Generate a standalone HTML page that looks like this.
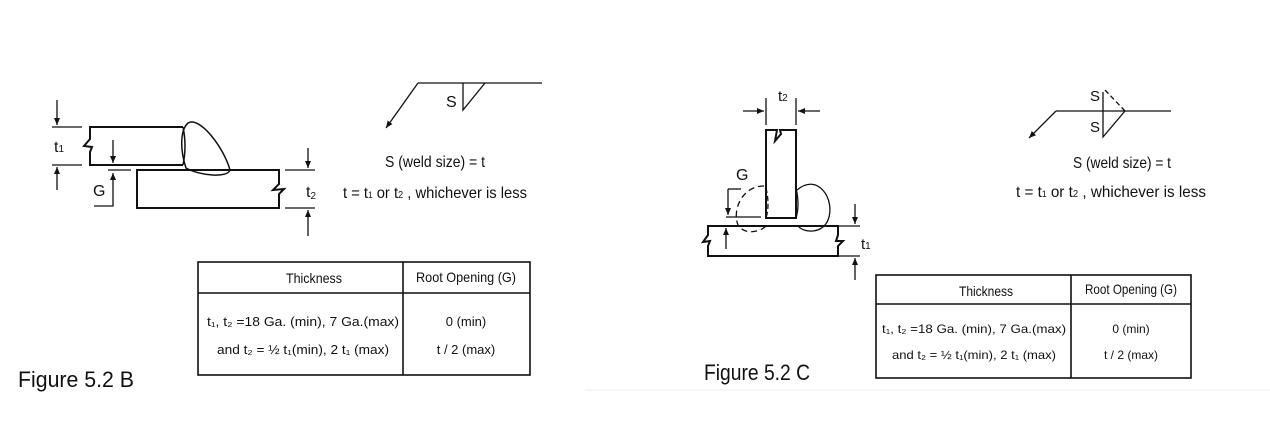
<!DOCTYPE html>
<html><head><meta charset="utf-8"><style>
html,body{margin:0;padding:0;background:#fff;}
svg{display:block;font-family:"Liberation Sans",sans-serif;}
</style></head><body>
<svg width="1270" height="444" viewBox="0 0 1270 444" xmlns="http://www.w3.org/2000/svg">
<defs>
<marker id="ar" markerWidth="8" markerHeight="8" refX="7" refY="3" orient="auto" markerUnits="userSpaceOnUse"><path d="M0,0 L7,3 L0,6 z" fill="#111"/></marker>
</defs>
<line x1="585" y1="390" x2="1270" y2="390" stroke="#eee" stroke-width="1"/>
<g stroke="#111" stroke-width="2" fill="none">
<!-- Figure B -->
<path d="M183,127 L90,127 L90,139 L84,146 L92,147 L90,152 L90,165 L183,165"/>
<path d="M183,127 Q187,146 183,165" stroke-width="1.5"/>
<path d="M188,123 C200,116 224,148 230,170 C228,178 200,176 186,168 C180,150 180,130 188,123 Z" stroke-width="1.5"/>
<path d="M137,170 L279,170 L279,184 L273,190 L284,189 L279,194 L279,208 L137,208 Z"/>
<g stroke-width="1.3">
<line x1="52" y1="127" x2="82" y2="127"/><line x1="52" y1="165" x2="82" y2="165"/>
<line x1="57" y1="100" x2="57" y2="125" marker-end="url(#ar)"/>
<line x1="57" y1="190" x2="57" y2="167" marker-end="url(#ar)"/>
<line x1="108" y1="170" x2="131" y2="170"/>
<line x1="113" y1="140" x2="113" y2="163" marker-end="url(#ar)"/>
<path d="M94,206 L113,206 L113,173" marker-end="url(#ar)"/>
<line x1="285" y1="170" x2="315" y2="170"/><line x1="285" y1="208" x2="315" y2="208"/>
<line x1="308" y1="148" x2="308" y2="168" marker-end="url(#ar)"/>
<line x1="308" y1="236" x2="308" y2="210" marker-end="url(#ar)"/>
<path d="M418,83 L386,128" marker-end="url(#ar)"/>
<path d="M418,83 L542,83"/>
<path d="M463,83 L463,110 L485,83"/>
</g>
<!-- Figure C -->
<path d="M766,218 L766,130 L777,130 L775,141 L781,134 L780,130 L796,130 L796,218 Z"/>
<path d="M838,226 L708,226 L708,235 L703,242 L710,241 L708,246 L708,256 L838,256 L838,246 L843,241 L836,241 L838,235 Z"/>
<g stroke-width="1.3">
<path d="M797,190 C818,172 836,200 828,220 C823,233 805,234 798,226" />
<path d="M796,188 Q800,205 796,218"/>
<path d="M764,186 C742,186 732,210 738,225 C745,236 762,232 768,224" stroke-dasharray="6,4"/>
<path d="M766,188 Q770,205 766,218" stroke-dasharray="5,3"/>
<line x1="766" y1="98" x2="766" y2="125"/><line x1="796" y1="98" x2="796" y2="125"/>
<line x1="743" y1="111" x2="764" y2="111" marker-end="url(#ar)"/>
<line x1="820" y1="111" x2="798" y2="111" marker-end="url(#ar)"/>
<path d="M726,217 L761,217"/>
<path d="M728,189 L728,215" marker-end="url(#ar)"/>
<path d="M728,189 L741,189"/>
<line x1="726" y1="249" x2="726" y2="228" marker-end="url(#ar)"/>
<line x1="838" y1="226" x2="860" y2="226"/><line x1="838" y1="256" x2="860" y2="256"/>
<line x1="855" y1="204" x2="855" y2="224" marker-end="url(#ar)"/>
<line x1="855" y1="280" x2="855" y2="258" marker-end="url(#ar)"/>
<path d="M1056,111 L1029,138" marker-end="url(#ar)"/>
<path d="M1056,111 L1171,111"/>
<path d="M1103,92 L1103,137 L1125,111"/>
<path d="M1125,111 L1105,90" stroke-dasharray="5,3"/>
</g>
<!-- Tables -->
<g stroke-width="1.6">
<rect x="198" y="262" width="332" height="113"/>
<line x1="198" y1="293" x2="530" y2="293"/>
<line x1="403" y1="262" x2="403" y2="375"/>
<rect x="876" y="275" width="315" height="103"/>
<line x1="876" y1="304" x2="1191" y2="304"/>
<line x1="1071" y1="275" x2="1071" y2="378"/>
</g>
</g>
<g fill="#111">
<text x="54" y="152" font-size="16">t<tspan font-size="10">1</tspan></text>
<text x="93" y="196" font-size="16">G</text>
<text x="306" y="197" font-size="16">t<tspan font-size="10" dy="2">2</tspan></text>
<text x="446" y="107" font-size="16">S</text>
<text x="385" y="167" font-size="16" textLength="100" lengthAdjust="spacingAndGlyphs">S (weld size) = t</text>
<text x="343" y="198" font-size="16" textLength="184" lengthAdjust="spacingAndGlyphs">t = t<tspan font-size="9">1</tspan> or t<tspan font-size="10">2</tspan> , whichever is less</text>
<text x="314" y="283" font-size="14" text-anchor="middle" textLength="56" lengthAdjust="spacingAndGlyphs">Thickness</text>
<text x="466" y="282" font-size="14" text-anchor="middle" textLength="100" lengthAdjust="spacingAndGlyphs">Root Opening (G)</text>
<text x="303" y="326" font-size="13" text-anchor="middle" textLength="192" lengthAdjust="spacingAndGlyphs">t₁, t₂ =18 Ga. (min), 7 Ga.(max)</text>
<text x="303" y="354" font-size="13" text-anchor="middle" textLength="172" lengthAdjust="spacingAndGlyphs">and t₂ = ½ t₁(min), 2 t₁ (max)</text>
<text x="466" y="326" font-size="13" text-anchor="middle">0 (min)</text>
<text x="466" y="354" font-size="13" text-anchor="middle">t / 2 (max)</text>
<text x="18" y="387" font-size="22" textLength="116" lengthAdjust="spacingAndGlyphs">Figure 5.2 B</text>

<text x="778" y="101" font-size="15">t<tspan font-size="10">2</tspan></text>
<text x="736" y="180" font-size="16">G</text>
<text x="861" y="249" font-size="15">t<tspan font-size="10">1</tspan></text>
<text x="1090" y="101" font-size="15">S</text>
<text x="1090" y="132" font-size="15">S</text>
<text x="1122" y="168" font-size="16" text-anchor="middle" textLength="98" lengthAdjust="spacingAndGlyphs">S (weld size) = t</text>
<text x="1016" y="197" font-size="16" textLength="190" lengthAdjust="spacingAndGlyphs">t = t<tspan font-size="9">1</tspan> or t<tspan font-size="10">2</tspan> , whichever is less</text>
<text x="986" y="296" font-size="14" text-anchor="middle" textLength="54" lengthAdjust="spacingAndGlyphs">Thickness</text>
<text x="1131" y="294" font-size="14" text-anchor="middle" textLength="92" lengthAdjust="spacingAndGlyphs">Root Opening (G)</text>
<text x="974" y="333" font-size="12" text-anchor="middle" textLength="184" lengthAdjust="spacingAndGlyphs">t₁, t₂ =18 Ga. (min), 7 Ga.(max)</text>
<text x="974" y="359" font-size="12" text-anchor="middle" textLength="164" lengthAdjust="spacingAndGlyphs">and t₂ = ½ t₁(min), 2 t₁ (max)</text>
<text x="1131" y="333" font-size="12" text-anchor="middle">0 (min)</text>
<text x="1131" y="359" font-size="12" text-anchor="middle">t / 2 (max)</text>
<text x="704" y="380" font-size="22" textLength="106" lengthAdjust="spacingAndGlyphs">Figure 5.2 C</text>
</g>
</svg>
</body></html>
